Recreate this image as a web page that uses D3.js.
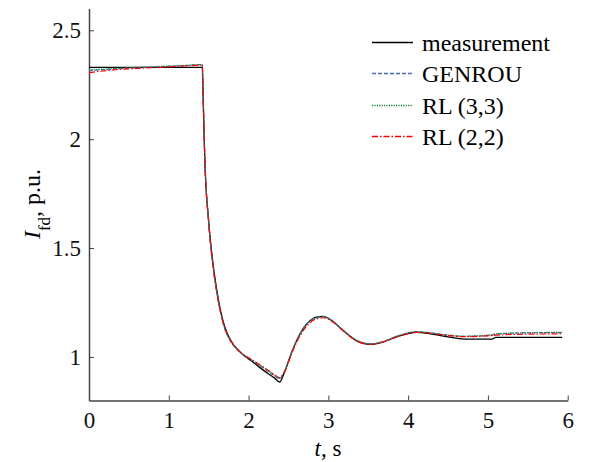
<!DOCTYPE html>
<meta charset="utf-8">
<style>
body { margin: 0; background: white; }
svg { font-family: 'Liberation Serif', 'Times New Roman', serif; }
.axis path, .axis line { stroke: #444; }
</style>
<body>
<script src="https://d3js.org/d3.v7.min.js"></script>
<script>

// time in seconds (shared by all series)
var time = [0, 0.3, 0.6, 0.9, 1.2, 1.42, 1.43, 1.45, 1.5, 1.55,
            1.6, 1.65, 1.7, 1.77, 1.9, 2.06, 2.2, 2.32, 2.39, 2.45,
            2.55, 2.65, 2.75, 2.85, 2.94, 3.05, 3.19, 3.35, 3.52, 3.65,
            3.9, 4.1, 4.3, 4.5, 4.7, 5.05, 5.1, 5.4, 5.93];

var measurement = [2.33, 2.33, 2.33, 2.33, 2.33, 2.33, 2.20, 1.92, 1.62, 1.44,
                   1.31, 1.21, 1.14, 1.08, 1.02, 0.975, 0.935, 0.905, 0.885, 0.93,
                   1.03, 1.11, 1.16, 1.183, 1.186, 1.165, 1.12, 1.075, 1.058, 1.065,
                   1.098, 1.113, 1.105, 1.092, 1.082, 1.082, 1.09, 1.09, 1.09];

var genrou = [2.315, 2.322, 2.328, 2.333, 2.338, 2.342, 2.21, 1.93, 1.62, 1.43,
              1.30, 1.20, 1.13, 1.075, 1.02, 0.98, 0.945, 0.915, 0.9, 0.935,
              1.03, 1.11, 1.16, 1.18, 1.185, 1.165, 1.12, 1.077, 1.06, 1.067,
              1.1, 1.116, 1.11, 1.1, 1.095, 1.1, 1.105, 1.11, 1.112];

var rl33 = [2.318, 2.324, 2.33, 2.334, 2.339, 2.342, 2.21, 1.93, 1.625, 1.435,
            1.305, 1.205, 1.135, 1.077, 1.022, 0.982, 0.948, 0.918, 0.902, 0.935,
            1.03, 1.108, 1.158, 1.18, 1.184, 1.165, 1.12, 1.077, 1.06, 1.067,
            1.1, 1.116, 1.11, 1.1, 1.095, 1.102, 1.106, 1.11, 1.113];

var rl22 = [2.305, 2.318, 2.325, 2.33, 2.336, 2.34, 2.21, 1.93, 1.62, 1.43,
            1.30, 1.205, 1.135, 1.078, 1.022, 0.983, 0.95, 0.92, 0.905, 0.93,
            1.025, 1.1, 1.15, 1.175, 1.18, 1.162, 1.118, 1.075, 1.058, 1.065,
            1.097, 1.113, 1.108, 1.098, 1.093, 1.098, 1.1, 1.104, 1.106];

var seriesNames = ["measurement", "GENROU", "RL (3,3)", "RL (2,2)"];
var xTicks = [0, 1, 2, 3, 4, 5, 6];
var yTicks = [1, 1.5, 2, 2.5];

var styles = [
  {color: "#000000", dash: null, w: 1.3},
  {color: "#3f6db5", dash: "4,2", w: 1.2},
  {color: "#17803c", dash: "1.2,1.2", w: 1.2},
  {color: "#ff0000", dash: "6,2,1.5,2", w: 1.2}
];

var width = 602, height = 462;

var svg = d3.select("body").append("svg")
    .attr("width", width)
    .attr("height", height);

var x = d3.scaleLinear().domain([0, 6]).range([89, 567.7]);
var y = d3.scaleLinear().domain([0.8, 2.6]).range([400.5, 8.5]);

// axes, ticks pointing inward
var xAxis = svg.append("g")
    .attr("class", "axis")
    .attr("transform", "translate(0," + y(0.8) + ")")
    .call(d3.axisBottom(x).tickValues(xTicks).tickSizeInner(-5).tickSizeOuter(0).tickPadding(11)
          .tickFormat(d3.format("d")));

var yAxis = svg.append("g")
    .attr("class", "axis")
    .attr("transform", "translate(" + x(0) + ",0)")
    .call(d3.axisLeft(y).tickValues(yTicks).tickSizeInner(-5).tickSizeOuter(0).tickPadding(8)
          .tickFormat(d3.format("~g")));

[xAxis, yAxis].forEach(function(g) {
  g.attr("font-family", null).attr("font-size", null);
  g.select(".domain").attr("stroke-width", 1.5);
  g.selectAll("text")
    .attr("font-family", "Liberation Serif")
    .attr("font-size", 23)
    .attr("fill", "#111");
});

// lines
var allSeries = [measurement, genrou, rl33, rl22];
var line = d3.line()
    .x(function(d) { return x(d[0]); })
    .y(function(d) { return y(d[1]); })
    .curve(d3.curveMonotoneX);

allSeries.forEach(function(vals, i) {
  var pts = time.map(function(t, j) { return [t, vals[j]]; });
  svg.append("path")
    .datum(pts)
    .attr("fill", "none")
    .attr("stroke", styles[i].color)
    .attr("stroke-width", styles[i].w)
    .attr("stroke-dasharray", styles[i].dash)
    .attr("d", line);
});

// legend
var rowY = [42.5, 73.5, 105.5, 136.5];
seriesNames.forEach(function(name, i) {
  var row = svg.append("g").attr("transform", "translate(372," + rowY[i] + ")");
  row.append("line")
    .attr("x1", 0).attr("x2", 41)
    .attr("stroke", styles[i].color)
    .attr("stroke-width", 1.3)
    .attr("stroke-dasharray", styles[i].dash);
  row.append("text")
    .attr("x", 50).attr("y", 8)
    .style("font-size", "24px")
    .text(name);
});

// axis titles
var xt = svg.append("text")
    .attr("x", 328).attr("y", 456)
    .attr("text-anchor", "middle")
    .style("font-size", "23px");
xt.append("tspan").style("font-style", "italic").text("t");
xt.append("tspan").text(", s");

var yt = svg.append("text")
    .attr("transform", "translate(40,204) rotate(-90)")
    .attr("text-anchor", "middle")
    .style("font-size", "24px");
yt.append("tspan").style("font-style", "italic").text("I");
yt.append("tspan").attr("baseline-shift", "sub").style("font-size", "17px").text("fd");
yt.append("tspan").text(", p.u.");

</script>
</body>
